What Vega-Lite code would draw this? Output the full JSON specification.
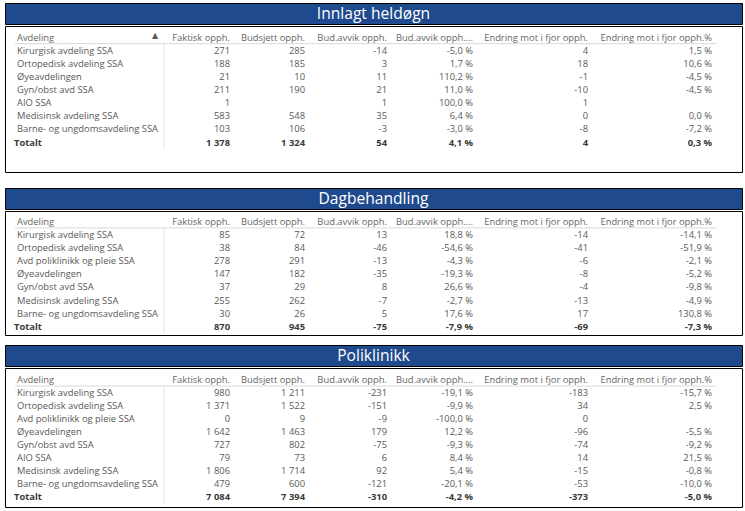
{
  "$schema": "https://vega.github.io/schema/vega-lite/v6.json",
  "padding": {"left": 4, "top": 2, "right": 0, "bottom": 0},
  "background": "white",
  "config": {
    "view": {"stroke": "#000000", "strokeWidth": 1},
    "text": {"font": "Open Sans", "fontSize": 9.4, "color": "#595959"},
    "locale": {"number": {"decimal": ",", "thousands": " ", "grouping": [3], "currency": ["", " kr"], "minus": "-", "percent": " %"}}
  },
  "datasets": {
    "kolonner": [
      {"kolonne": "avdeling", "tittel": "Avdeling"},
      {"kolonne": "skille", "tittel": ""},
      {"kolonne": "faktisk", "tittel": "Faktisk opph."},
      {"kolonne": "budsjett", "tittel": "Budsjett opph."},
      {"kolonne": "avvik", "tittel": "Bud.avvik opph."},
      {"kolonne": "avvikPst", "tittel": "Bud.avvik opph...."},
      {"kolonne": "endring", "tittel": "Endring mot i fjor opph."},
      {"kolonne": "endringPst", "tittel": "Endring mot i fjor opph.%"}
    ],
    "tabell": [
      {"panel": "Innlagt heldøgn", "avdeling": "Kirurgisk avdeling SSA", "faktisk": 271, "budsjett": 285, "avvik": -14, "avvikPst": -0.05, "endring": 4, "endringPst": 0.015},
      {"panel": "Innlagt heldøgn", "avdeling": "Ortopedisk avdeling SSA", "faktisk": 188, "budsjett": 185, "avvik": 3, "avvikPst": 0.017, "endring": 18, "endringPst": 0.106},
      {"panel": "Innlagt heldøgn", "avdeling": "Øyeavdelingen", "faktisk": 21, "budsjett": 10, "avvik": 11, "avvikPst": 1.102, "endring": -1, "endringPst": -0.045},
      {"panel": "Innlagt heldøgn", "avdeling": "Gyn/obst avd SSA", "faktisk": 211, "budsjett": 190, "avvik": 21, "avvikPst": 0.11, "endring": -10, "endringPst": -0.045},
      {"panel": "Innlagt heldøgn", "avdeling": "AIO SSA", "faktisk": 1, "budsjett": null, "avvik": 1, "avvikPst": 1.0, "endring": 1, "endringPst": null},
      {"panel": "Innlagt heldøgn", "avdeling": "Medisinsk avdeling SSA", "faktisk": 583, "budsjett": 548, "avvik": 35, "avvikPst": 0.064, "endring": 0, "endringPst": 0.0},
      {"panel": "Innlagt heldøgn", "avdeling": "Barne- og ungdomsavdeling SSA", "faktisk": 103, "budsjett": 106, "avvik": -3, "avvikPst": -0.03, "endring": -8, "endringPst": -0.072},
      {"panel": "Innlagt heldøgn", "avdeling": "Totalt", "faktisk": 1378, "budsjett": 1324, "avvik": 54, "avvikPst": 0.041, "endring": 4, "endringPst": 0.003},
      {"panel": "Dagbehandling", "avdeling": "Kirurgisk avdeling SSA", "faktisk": 85, "budsjett": 72, "avvik": 13, "avvikPst": 0.188, "endring": -14, "endringPst": -0.141},
      {"panel": "Dagbehandling", "avdeling": "Ortopedisk avdeling SSA", "faktisk": 38, "budsjett": 84, "avvik": -46, "avvikPst": -0.546, "endring": -41, "endringPst": -0.519},
      {"panel": "Dagbehandling", "avdeling": "Avd poliklinikk og pleie SSA", "faktisk": 278, "budsjett": 291, "avvik": -13, "avvikPst": -0.043, "endring": -6, "endringPst": -0.021},
      {"panel": "Dagbehandling", "avdeling": "Øyeavdelingen", "faktisk": 147, "budsjett": 182, "avvik": -35, "avvikPst": -0.193, "endring": -8, "endringPst": -0.052},
      {"panel": "Dagbehandling", "avdeling": "Gyn/obst avd SSA", "faktisk": 37, "budsjett": 29, "avvik": 8, "avvikPst": 0.266, "endring": -4, "endringPst": -0.098},
      {"panel": "Dagbehandling", "avdeling": "Medisinsk avdeling SSA", "faktisk": 255, "budsjett": 262, "avvik": -7, "avvikPst": -0.027, "endring": -13, "endringPst": -0.049},
      {"panel": "Dagbehandling", "avdeling": "Barne- og ungdomsavdeling SSA", "faktisk": 30, "budsjett": 26, "avvik": 5, "avvikPst": 0.176, "endring": 17, "endringPst": 1.308},
      {"panel": "Dagbehandling", "avdeling": "Totalt", "faktisk": 870, "budsjett": 945, "avvik": -75, "avvikPst": -0.079, "endring": -69, "endringPst": -0.073},
      {"panel": "Poliklinikk", "avdeling": "Kirurgisk avdeling SSA", "faktisk": 980, "budsjett": 1211, "avvik": -231, "avvikPst": -0.191, "endring": -183, "endringPst": -0.157},
      {"panel": "Poliklinikk", "avdeling": "Ortopedisk avdeling SSA", "faktisk": 1371, "budsjett": 1522, "avvik": -151, "avvikPst": -0.099, "endring": 34, "endringPst": 0.025},
      {"panel": "Poliklinikk", "avdeling": "Avd poliklinikk og pleie SSA", "faktisk": 0, "budsjett": 9, "avvik": -9, "avvikPst": -1.0, "endring": 0, "endringPst": null},
      {"panel": "Poliklinikk", "avdeling": "Øyeavdelingen", "faktisk": 1642, "budsjett": 1463, "avvik": 179, "avvikPst": 0.122, "endring": -96, "endringPst": -0.055},
      {"panel": "Poliklinikk", "avdeling": "Gyn/obst avd SSA", "faktisk": 727, "budsjett": 802, "avvik": -75, "avvikPst": -0.093, "endring": -74, "endringPst": -0.092},
      {"panel": "Poliklinikk", "avdeling": "AIO SSA", "faktisk": 79, "budsjett": 73, "avvik": 6, "avvikPst": 0.084, "endring": 14, "endringPst": 0.215},
      {"panel": "Poliklinikk", "avdeling": "Medisinsk avdeling SSA", "faktisk": 1806, "budsjett": 1714, "avvik": 92, "avvikPst": 0.054, "endring": -15, "endringPst": -0.008},
      {"panel": "Poliklinikk", "avdeling": "Barne- og ungdomsavdeling SSA", "faktisk": 479, "budsjett": 600, "avvik": -121, "avvikPst": -0.201, "endring": -53, "endringPst": -0.1},
      {"panel": "Poliklinikk", "avdeling": "Totalt", "faktisk": 7084, "budsjett": 7394, "avvik": -310, "avvikPst": -0.042, "endring": -373, "endringPst": -0.05}
    ]
  },
  "spacing": 14,
  "vconcat": [
    {
      "spacing": 0,
      "vconcat": [
        {
          "width": 737, "height": 21,
          "view": {"fill": "#1F4A8D", "stroke": "#000000"},
          "data": {"name": "tabell"},
          "transform": [{"filter": "datum.panel == 'Innlagt heldøgn' && datum.avdeling == 'Totalt'"}],
          "mark": {"type": "text", "color": "white", "fontSize": 15.6, "font": "Open Sans"},
          "encoding": {"text": {"field": "panel"}}
        },
        {
          "width": 737, "height": 146,
          "data": {"name": "tabell"},
          "encoding": {
            "x": {"field": "nr", "type": "quantitative", "axis": null, "scale": {"domain": [1, 2, 3, 4, 5, 6, 7, 8], "range": [12, 159, 225, 300, 382, 468, 583, 707], "zero": false, "nice": false}},
            "y": {"field": "avdeling", "type": "nominal", "axis": null, "scale": {"type": "point", "domain": ["Avdeling", "Kirurgisk avdeling SSA", "Ortopedisk avdeling SSA", "Øyeavdelingen", "Gyn/obst avd SSA", "AIO SSA", "Medisinsk avdeling SSA", "Barne- og ungdomsavdeling SSA", "Totalt", "tom1", "tom2"], "padding": 0.57, "align": 0.78}}
          },
          "layer": [
            {"data": {"name": "kolonner"}, "transform": [{"filter": "datum.kolonne != 'skille'"}, {"calculate": "indexof(['avdeling','skille','faktisk','budsjett','avvik','avvikPst','endring','endringPst'], datum.kolonne) + 1", "as": "nr"}], "mark": {"type": "text", "color": "#666666", "align": {"expr": "datum.kolonne == 'avdeling' ? 'left' : 'right'"}}, "encoding": {"y": {"datum": "Avdeling"}, "text": {"field": "tittel"}}},
            {"data": {"name": "kolonner"}, "transform": [{"calculate": "indexof(['avdeling','skille','faktisk','budsjett','avvik','avvikPst','endring','endringPst'], datum.kolonne) + 1", "as": "nr"}], "mark": {"type": "rule", "color": "#d9d9d9", "yOffset": 6, "xOffset": -2, "x2Offset": 4}, "encoding": {"x": {"aggregate": "min", "field": "nr", "type": "quantitative"}, "x2": {"aggregate": "max", "field": "nr"}, "y": {"datum": "Avdeling"}}},
            {"data": {"name": "kolonner"}, "transform": [{"filter": "datum.kolonne == 'skille'"}, {"calculate": "indexof(['avdeling','skille','faktisk','budsjett','avvik','avvikPst','endring','endringPst'], datum.kolonne) + 1", "as": "nr"}], "mark": {"type": "rule", "color": "#e2e2e2", "yOffset": 6, "y2Offset": 6}, "encoding": {"y": {"datum": "Avdeling"}, "y2": {"datum": "Totalt"}}},
            {"data": {"name": "kolonner"}, "transform": [{"filter": "datum.kolonne == 'skille'"}, {"calculate": "indexof(['avdeling','skille','faktisk','budsjett','avvik','avvikPst','endring','endringPst'], datum.kolonne) + 1", "as": "nr"}], "mark": {"type": "text", "text": "▲", "align": "center", "dx": -9, "dy": -1.5, "fontSize": 8, "font": "DejaVu Sans", "color": "#5a5a5a"}, "encoding": {"y": {"datum": "Avdeling"}}},
            {"transform": [{"filter": "datum.panel == 'Innlagt heldøgn'"}, {"fold": ["avdeling"], "as": ["kolonne", "verdi"]}, {"calculate": "indexof(['avdeling','skille','faktisk','budsjett','avvik','avvikPst','endring','endringPst'], datum.kolonne) + 1", "as": "nr"}], "mark": {"type": "text", "align": "left", "dx": {"expr": "datum.avdeling == 'Totalt' ? -3 : 0"}, "fontWeight": {"expr": "datum.avdeling == 'Totalt' ? 'bold' : 'normal'"}, "color": {"expr": "datum.avdeling == 'Totalt' ? '#3a3a3a' : '#595959'"}}, "encoding": {"text": {"field": "verdi"}}},
            {"transform": [{"filter": "datum.panel == 'Innlagt heldøgn'"}, {"fold": ["faktisk", "budsjett", "avvik", "endring"], "as": ["kolonne", "verdi"]}, {"filter": "isValid(datum.verdi)"}, {"calculate": "indexof(['avdeling','skille','faktisk','budsjett','avvik','avvikPst','endring','endringPst'], datum.kolonne) + 1", "as": "nr"}], "mark": {"type": "text", "align": "right", "fontWeight": {"expr": "datum.avdeling == 'Totalt' ? 'bold' : 'normal'"}, "color": {"expr": "datum.avdeling == 'Totalt' ? '#3a3a3a' : '#595959'"}}, "encoding": {"text": {"field": "verdi", "type": "quantitative", "format": ",d"}}},
            {"transform": [{"filter": "datum.panel == 'Innlagt heldøgn'"}, {"fold": ["avvikPst", "endringPst"], "as": ["kolonne", "verdi"]}, {"filter": "isValid(datum.verdi)"}, {"calculate": "indexof(['avdeling','skille','faktisk','budsjett','avvik','avvikPst','endring','endringPst'], datum.kolonne) + 1", "as": "nr"}], "mark": {"type": "text", "align": "right", "fontWeight": {"expr": "datum.avdeling == 'Totalt' ? 'bold' : 'normal'"}, "color": {"expr": "datum.avdeling == 'Totalt' ? '#3a3a3a' : '#595959'"}}, "encoding": {"text": {"field": "verdi", "type": "quantitative", "format": ".1%"}}}
          ]
        }
      ]
    },
    {
      "spacing": 8,
      "vconcat": [
        {
          "spacing": 0,
          "vconcat": [
            {
              "width": 737, "height": 21,
              "view": {"fill": "#1F4A8D", "stroke": "#000000"},
              "data": {"name": "tabell"},
              "transform": [{"filter": "datum.panel == 'Dagbehandling' && datum.avdeling == 'Totalt'"}],
              "mark": {"type": "text", "color": "white", "fontSize": 15.6, "font": "Open Sans"},
              "encoding": {"text": {"field": "panel"}}
            },
            {
              "width": 737, "height": 124,
              "data": {"name": "tabell"},
              "encoding": {
                "x": {"field": "nr", "type": "quantitative", "axis": null, "scale": {"domain": [1, 2, 3, 4, 5, 6, 7, 8], "range": [12, 159, 225, 300, 382, 468, 583, 707], "zero": false, "nice": false}},
                "y": {"field": "avdeling", "type": "nominal", "axis": null, "scale": {"type": "point", "domain": ["Avdeling", "Kirurgisk avdeling SSA", "Ortopedisk avdeling SSA", "Avd poliklinikk og pleie SSA", "Øyeavdelingen", "Gyn/obst avd SSA", "Medisinsk avdeling SSA", "Barne- og ungdomsavdeling SSA", "Totalt"], "padding": 0.73, "align": 0.57}}
              },
              "layer": [
                {"data": {"name": "kolonner"}, "transform": [{"filter": "datum.kolonne != 'skille'"}, {"calculate": "indexof(['avdeling','skille','faktisk','budsjett','avvik','avvikPst','endring','endringPst'], datum.kolonne) + 1", "as": "nr"}], "mark": {"type": "text", "color": "#666666", "align": {"expr": "datum.kolonne == 'avdeling' ? 'left' : 'right'"}}, "encoding": {"y": {"datum": "Avdeling"}, "text": {"field": "tittel"}}},
                {"data": {"name": "kolonner"}, "transform": [{"calculate": "indexof(['avdeling','skille','faktisk','budsjett','avvik','avvikPst','endring','endringPst'], datum.kolonne) + 1", "as": "nr"}], "mark": {"type": "rule", "color": "#d9d9d9", "yOffset": 6, "xOffset": -2, "x2Offset": 4}, "encoding": {"x": {"aggregate": "min", "field": "nr", "type": "quantitative"}, "x2": {"aggregate": "max", "field": "nr"}, "y": {"datum": "Avdeling"}}},
                {"data": {"name": "kolonner"}, "transform": [{"filter": "datum.kolonne == 'skille'"}, {"calculate": "indexof(['avdeling','skille','faktisk','budsjett','avvik','avvikPst','endring','endringPst'], datum.kolonne) + 1", "as": "nr"}], "mark": {"type": "rule", "color": "#e2e2e2", "yOffset": 6, "y2Offset": 7}, "encoding": {"y": {"datum": "Avdeling"}, "y2": {"datum": "Totalt"}}},
                {"transform": [{"filter": "datum.panel == 'Dagbehandling'"}, {"fold": ["avdeling"], "as": ["kolonne", "verdi"]}, {"calculate": "indexof(['avdeling','skille','faktisk','budsjett','avvik','avvikPst','endring','endringPst'], datum.kolonne) + 1", "as": "nr"}], "mark": {"type": "text", "align": "left", "dx": {"expr": "datum.avdeling == 'Totalt' ? -3 : 0"}, "fontWeight": {"expr": "datum.avdeling == 'Totalt' ? 'bold' : 'normal'"}, "color": {"expr": "datum.avdeling == 'Totalt' ? '#3a3a3a' : '#595959'"}}, "encoding": {"text": {"field": "verdi"}}},
                {"transform": [{"filter": "datum.panel == 'Dagbehandling'"}, {"fold": ["faktisk", "budsjett", "avvik", "endring"], "as": ["kolonne", "verdi"]}, {"filter": "isValid(datum.verdi)"}, {"calculate": "indexof(['avdeling','skille','faktisk','budsjett','avvik','avvikPst','endring','endringPst'], datum.kolonne) + 1", "as": "nr"}], "mark": {"type": "text", "align": "right", "fontWeight": {"expr": "datum.avdeling == 'Totalt' ? 'bold' : 'normal'"}, "color": {"expr": "datum.avdeling == 'Totalt' ? '#3a3a3a' : '#595959'"}}, "encoding": {"text": {"field": "verdi", "type": "quantitative", "format": ",d"}}},
                {"transform": [{"filter": "datum.panel == 'Dagbehandling'"}, {"fold": ["avvikPst", "endringPst"], "as": ["kolonne", "verdi"]}, {"filter": "isValid(datum.verdi)"}, {"calculate": "indexof(['avdeling','skille','faktisk','budsjett','avvik','avvikPst','endring','endringPst'], datum.kolonne) + 1", "as": "nr"}], "mark": {"type": "text", "align": "right", "fontWeight": {"expr": "datum.avdeling == 'Totalt' ? 'bold' : 'normal'"}, "color": {"expr": "datum.avdeling == 'Totalt' ? '#3a3a3a' : '#595959'"}}, "encoding": {"text": {"field": "verdi", "type": "quantitative", "format": ".1%"}}}
              ]
            }
          ]
        },
        {
          "spacing": 0,
          "vconcat": [
            {
              "width": 737, "height": 21,
              "view": {"fill": "#1F4A8D", "stroke": "#000000"},
              "data": {"name": "tabell"},
              "transform": [{"filter": "datum.panel == 'Poliklinikk' && datum.avdeling == 'Totalt'"}],
              "mark": {"type": "text", "color": "white", "fontSize": 15.6, "font": "Open Sans"},
              "encoding": {"text": {"field": "panel"}}
            },
            {
              "width": 737, "height": 139,
              "data": {"name": "tabell"},
              "encoding": {
                "x": {"field": "nr", "type": "quantitative", "axis": null, "scale": {"domain": [1, 2, 3, 4, 5, 6, 7, 8], "range": [12, 159, 225, 300, 382, 468, 583, 707], "zero": false, "nice": false}},
                "y": {"field": "avdeling", "type": "nominal", "axis": null, "scale": {"type": "point", "domain": ["Avdeling", "Kirurgisk avdeling SSA", "Ortopedisk avdeling SSA", "Avd poliklinikk og pleie SSA", "Øyeavdelingen", "Gyn/obst avd SSA", "AIO SSA", "Medisinsk avdeling SSA", "Barne- og ungdomsavdeling SSA", "Totalt"], "padding": 0.85, "align": 0.545}}
              },
              "layer": [
                {"data": {"name": "kolonner"}, "transform": [{"filter": "datum.kolonne != 'skille'"}, {"calculate": "indexof(['avdeling','skille','faktisk','budsjett','avvik','avvikPst','endring','endringPst'], datum.kolonne) + 1", "as": "nr"}], "mark": {"type": "text", "color": "#666666", "align": {"expr": "datum.kolonne == 'avdeling' ? 'left' : 'right'"}}, "encoding": {"y": {"datum": "Avdeling"}, "text": {"field": "tittel"}}},
                {"data": {"name": "kolonner"}, "transform": [{"calculate": "indexof(['avdeling','skille','faktisk','budsjett','avvik','avvikPst','endring','endringPst'], datum.kolonne) + 1", "as": "nr"}], "mark": {"type": "rule", "color": "#d9d9d9", "yOffset": 6, "xOffset": -2, "x2Offset": 4}, "encoding": {"x": {"aggregate": "min", "field": "nr", "type": "quantitative"}, "x2": {"aggregate": "max", "field": "nr"}, "y": {"datum": "Avdeling"}}},
                {"data": {"name": "kolonner"}, "transform": [{"filter": "datum.kolonne == 'skille'"}, {"calculate": "indexof(['avdeling','skille','faktisk','budsjett','avvik','avvikPst','endring','endringPst'], datum.kolonne) + 1", "as": "nr"}], "mark": {"type": "rule", "color": "#e2e2e2", "yOffset": 6, "y2Offset": 6}, "encoding": {"y": {"datum": "Avdeling"}, "y2": {"datum": "Totalt"}}},
                {"transform": [{"filter": "datum.panel == 'Poliklinikk'"}, {"fold": ["avdeling"], "as": ["kolonne", "verdi"]}, {"calculate": "indexof(['avdeling','skille','faktisk','budsjett','avvik','avvikPst','endring','endringPst'], datum.kolonne) + 1", "as": "nr"}], "mark": {"type": "text", "align": "left", "dx": {"expr": "datum.avdeling == 'Totalt' ? -3 : 0"}, "fontWeight": {"expr": "datum.avdeling == 'Totalt' ? 'bold' : 'normal'"}, "color": {"expr": "datum.avdeling == 'Totalt' ? '#3a3a3a' : '#595959'"}}, "encoding": {"text": {"field": "verdi"}}},
                {"transform": [{"filter": "datum.panel == 'Poliklinikk'"}, {"fold": ["faktisk", "budsjett", "avvik", "endring"], "as": ["kolonne", "verdi"]}, {"filter": "isValid(datum.verdi)"}, {"calculate": "indexof(['avdeling','skille','faktisk','budsjett','avvik','avvikPst','endring','endringPst'], datum.kolonne) + 1", "as": "nr"}], "mark": {"type": "text", "align": "right", "fontWeight": {"expr": "datum.avdeling == 'Totalt' ? 'bold' : 'normal'"}, "color": {"expr": "datum.avdeling == 'Totalt' ? '#3a3a3a' : '#595959'"}}, "encoding": {"text": {"field": "verdi", "type": "quantitative", "format": ",d"}}},
                {"transform": [{"filter": "datum.panel == 'Poliklinikk'"}, {"fold": ["avvikPst", "endringPst"], "as": ["kolonne", "verdi"]}, {"filter": "isValid(datum.verdi)"}, {"calculate": "indexof(['avdeling','skille','faktisk','budsjett','avvik','avvikPst','endring','endringPst'], datum.kolonne) + 1", "as": "nr"}], "mark": {"type": "text", "align": "right", "fontWeight": {"expr": "datum.avdeling == 'Totalt' ? 'bold' : 'normal'"}, "color": {"expr": "datum.avdeling == 'Totalt' ? '#3a3a3a' : '#595959'"}}, "encoding": {"text": {"field": "verdi", "type": "quantitative", "format": ".1%"}}}
              ]
            }
          ]
        }
      ]
    }
  ]
}
